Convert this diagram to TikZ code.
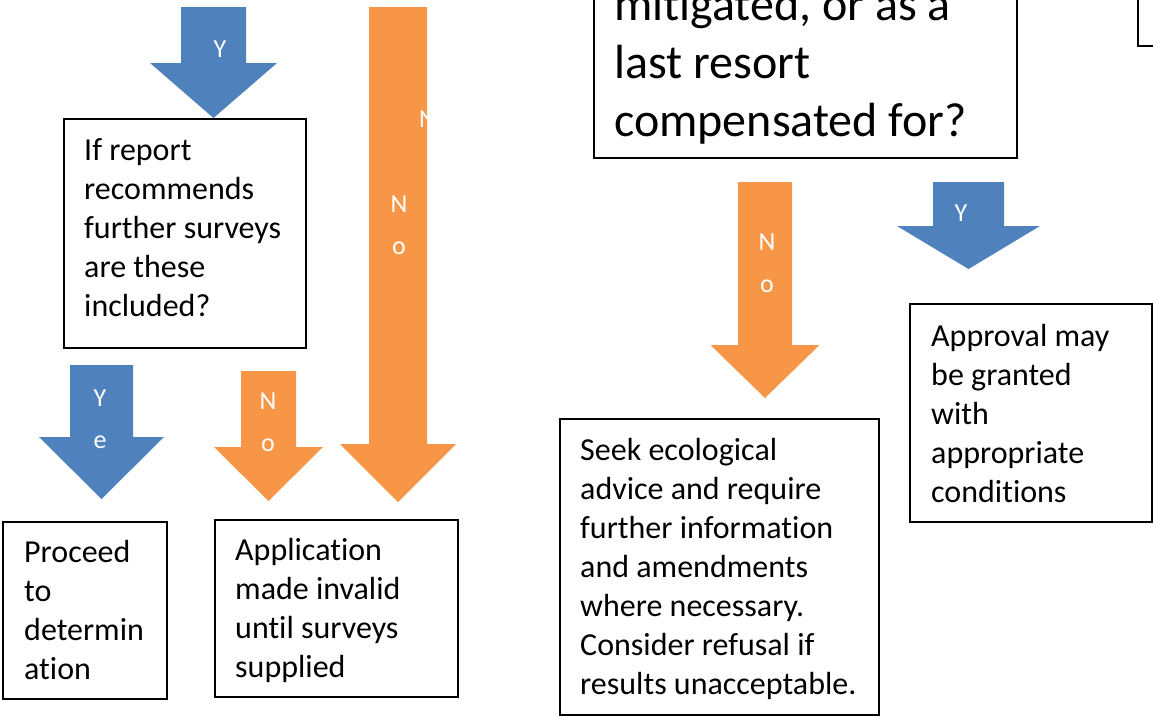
\documentclass[tikz,border=0pt]{standalone}
\usepackage{fontspec}
\setmainfont{Carlito}[Ligatures=NoCommon]
\usepackage{tikz}
\usetikzlibrary{positioning}

\definecolor{yesblue}{HTML}{4F81BD}
\definecolor{noorange}{HTML}{F79646}

% block arrow: colour, centre x, top, head start, tip, shaft half width, head half width
\newcommand{\blockarrow}[7]{%
  \fill[#1] (#2-#6,#3) -- (#2+#6,#3) -- (#2+#6,#4) -- (#2+#7,#4) -- (#2,#5)
    -- (#2-#7,#4) -- (#2-#6,#4) -- cycle;}

\begin{document}
\begin{tikzpicture}[
    x=1pt, y=-1pt,
    panel/.style={draw, line width=1.6pt, anchor=north west, inner sep=0pt},
    boxtext/.style={anchor=base west, align=left, inner sep=0pt,
      font=\fontsize{32}{39}\selectfont},
    bigtext/.style={anchor=base west, align=left, inner sep=0pt,
      font=\fontsize{48}{58}\selectfont},
    arrowlabel/.style={anchor=base, align=center, inner sep=0pt, text=white,
      font=\fontsize{26}{42}\selectfont}
    ]
    \useasboundingbox (0,0) rectangle (1153,715);

    % arrows
    \blockarrow{yesblue}{213.5}{7}{63}{118}{32.5}{63.5}
    \blockarrow{noorange}{398}{7}{444}{502}{29}{58}
    \blockarrow{yesblue}{101.5}{365}{437}{499}{31.5}{62.5}
    \blockarrow{noorange}{268.5}{371}{447}{501}{27.5}{54.5}
    \blockarrow{noorange}{765}{182}{345}{398}{27}{54.5}
    \blockarrow{yesblue}{968.5}{182}{226}{269}{35.5}{71.5}

    % labels (base = last line)
    \node[arrowlabel] (y1) at (220,57) {Y};
    \node[arrowlabel] (n1) at (399,254) {N\\o};
    \node[arrowlabel, anchor=base west] (n1b) at (419,127) {N};
    \node[arrowlabel] (y2) at (100,448) {Y\\e};
    \node[arrowlabel] (n2) at (268,451) {N\\o};
    \node[arrowlabel] (n3) at (767,292) {N\\o};
    \node[arrowlabel] (y3) at (961,221) {Y};

    % boxes
    \node[panel, minimum width=242, minimum height=229] (survey) at (63,118) {};
    \node[boxtext] (surveyt) at (84,316) {If report\\recommends\\further surveys\\are these\\included?};

    \node[panel, minimum width=164, minimum height=177] (proceed) at (2,521) {};
    \node[boxtext] (proceedt) at (24,679) {Proceed\\to\\determin\\ation};

    \node[panel, minimum width=243, minimum height=177] (invalid) at (214,519) {};
    \node[boxtext] (invalidt) at (235,677) {Application\\made invalid\\until surveys\\supplied};

    \node[panel, minimum width=423, minimum height=300] (mitig) at (593,-143) {};
    \node[bigtext] (mitigt) at (614,136) {mitigated, or as a\\last resort\\compensated for?};

    \node[panel, minimum width=80, minimum height=120] (corner) at (1137,-75) {};

    \node[panel, minimum width=319, minimum height=296] (advice) at (559,418) {};
    \node[boxtext] (advicet) at (580,694) {Seek ecological\\advice and require\\further information\\and amendments\\where necessary.\\Consider refusal if\\results unacceptable.};

    \node[panel, minimum width=242, minimum height=218] (approve) at (909,303) {};
    \node[boxtext] (approvet) at (931,502) {Approval may\\be granted\\with\\appropriate\\conditions};

  \end{tikzpicture}
\end{document}
